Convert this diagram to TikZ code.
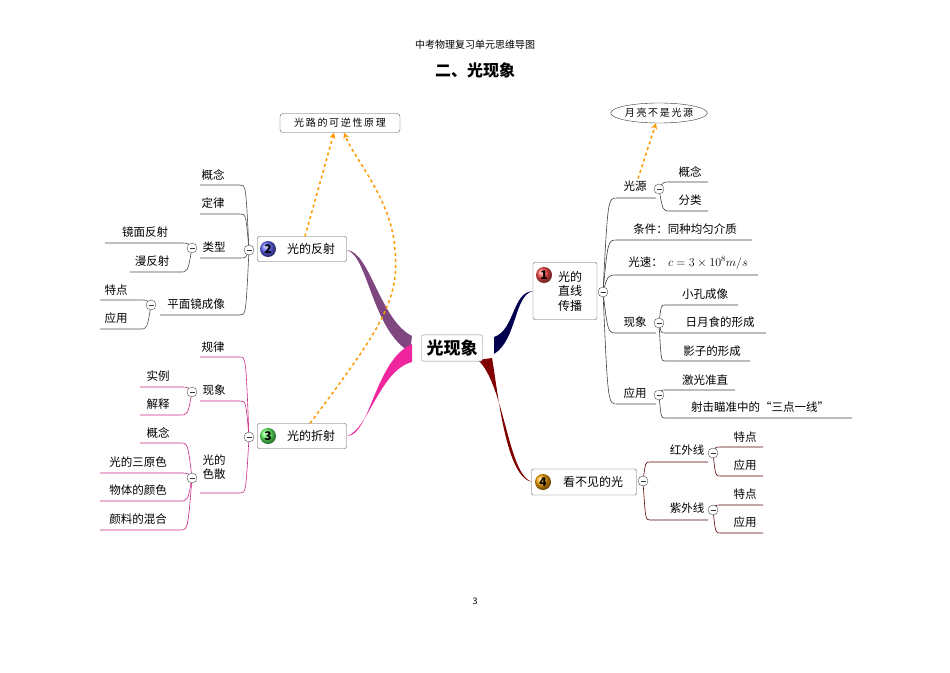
\documentclass[tikz,border=0pt]{standalone}
\usepackage{fontspec}
\setmainfont{Noto Sans CJK SC}
\usetikzlibrary{arrows.meta,calc,shapes.geometric}
\pgfdeclarelayer{bg}\pgfsetlayers{bg,main}
\tikzset{
  lbl/.style={inner sep=0pt,font=\fontsize{11.5}{13}\selectfont},
  topic/.style={draw=gray!70!black,fill=white,rounded corners=2pt,inner sep=3pt,font=\fontsize{12}{14}\selectfont,align=center},
  badge/.style={circle,inner sep=0pt,minimum size=16pt,text=black,font=\bfseries\fontsize{12}{12}\selectfont},
  col/.style={circle,draw=gray!60!black,fill=white,inner sep=0pt,minimum size=10pt,path picture={\draw[gray!40!black,line width=0.7pt] ([xshift=-2.5pt]path picture bounding box.center) -- ([xshift=2.5pt]path picture bounding box.center);}},
  cb1/.style={draw=black!75,line width=0.6pt},
  cb2/.style={draw=gray!60!black,line width=0.6pt},
  cb3/.style={draw=magenta!80!black,line width=0.6pt},
  cb4/.style={draw=red!35!black,line width=0.6pt},
  relarrow/.style={draw=orange!80!yellow,dashed,line width=1.5pt,-{Stealth[length=6pt,width=6pt]}},
}
\newcommand\rch[9]{%
  \node[lbl] (#2) at (#4,#5) {#3};
  \coordinate (#2l) at (#6,#8); \coordinate (#2r) at (#7,#8);
  \begin{pgfonlayer}{bg}
  \draw[#9] let \p1=(#1.center), \p2=(#2l) in (\p1) .. controls ({\x1+0.35*(\x2-\x1)},\y2) .. (\p2) -- (#2r);
  \end{pgfonlayer}}
\newcommand\lch[9]{%
  \node[lbl] (#2) at (#4,#5) {#3};
  \coordinate (#2l) at (#6,#8); \coordinate (#2r) at (#7,#8);
  \begin{pgfonlayer}{bg}
  \draw[#9] let \p1=(#1.center), \p2=(#2r) in (\p1) .. controls ({\x1+0.35*(\x2-\x1)},\y2) .. (\p2) -- (#2l);
  \end{pgfonlayer}}
\begin{document}
\begin{tikzpicture}[x=1pt,y=-1pt]
\useasboundingbox (0,0) rectangle (950,672);
\node[inner sep=0pt,font=\fontsize{10}{12}\selectfont] (sub) at (475,45) {中考物理复习单元思维导图};
\node[inner sep=0pt,font=\bfseries\fontsize{16}{18}\selectfont] (ttl) at (475,70) {二、光现象};
\node[inner sep=0pt,font=\fontsize{9}{10}\selectfont] (pg) at (475,601) {3};

\fill[blue!30!black] (494,337) .. controls (515,330) and (512,292) .. (533,291) .. controls (514,295) and (517,340) .. (494,354) -- cycle;
\fill[red!50!black] (478,360) .. controls (505,385) and (508,478) .. (533,482) .. controls (506,480) and (498,392) .. (492,358) -- cycle;
\fill[violet!45!gray] (412,336) .. controls (380,320) and (370,252) .. (347,250) .. controls (368,256) and (372,330) .. (410,352) -- cycle;
\fill[magenta!85!white] (412,344) .. controls (375,360) and (370,436) .. (347,436) .. controls (368,430) and (380,370) .. (412,362) -- cycle;

\node[draw=gray,fill=white,rounded corners=2pt,inner sep=5pt,font=\bfseries\fontsize{17}{19}\selectfont] (c) at (452,348) {光现象};

\node[topic,minimum width=64pt,minimum height=57pt,text width=30pt,font=\fontsize{12}{14.5}\selectfont] (t1) at (565,291) {\hspace*{8pt}光的\\\hspace*{8pt}直线\\\hspace*{8pt}传播};
\node[badge,ball color=red!70] (b1) at (544,275) {1};
\node[topic,minimum width=89pt,minimum height=25pt] (t2) at (302,249) {\hspace*{18pt}光的反射};
\node[badge,ball color=blue!60] (b2) at (268,249) {2};
\node[topic,minimum width=89pt,minimum height=25pt] (t3) at (302,436) {\hspace*{18pt}光的折射};
\node[badge,ball color=green!60] (b3) at (268,436) {3};
\node[topic,minimum width=105pt,minimum height=26pt] (t4) at (584,482) {\hspace*{18pt}看不见的光};
\node[badge,ball color=orange!70!yellow] (b4) at (543,482) {4};

\node[draw=gray!70!black,rounded corners=3pt,inner sep=2pt,minimum width=120pt,minimum height=19pt,font=\fontsize{10}{12}\selectfont] (rev) at (340,123) {光\,路\,的\,可\,逆\,性\,原\,理};
\node[draw=black!80,ellipse,inner sep=0pt,minimum width=96pt,minimum height=20pt,font=\fontsize{10}{12}\selectfont] (moon) at (659,113) {月\,亮\,不\,是\,光\,源};

\node[col] (k1) at (603,292) {};
\node[col] (k4) at (643,481) {};
\node[col] (k2) at (249,250) {};
\node[col] (k3) at (249,437) {};
\node[col] (kgy) at (659,189) {};
\node[col] (kxx1) at (659,323) {};
\node[col] (kyy1) at (659,395) {};
\node[col] (khw) at (713,453) {};
\node[col] (kzw) at (713,510) {};
\node[col] (klx) at (192,248) {};
\node[col] (kpm) at (151,305) {};
\node[col] (kxx3) at (192,392) {};
\node[col] (kss) at (192,478) {};

\rch{k1}{gy}{光源}{635}{186}{617}{656}{198}{cb1}
\rch{kgy}{gn1}{概念}{690}{172}{670}{708}{182}{cb1}
\rch{kgy}{fl}{分类}{690}{200}{670}{708}{211}{cb1}
\rch{k1}{tj}{条件：同种均匀介质}{685}{229}{617}{752}{240}{cb1}
\rch{k1}{gs}{光速：\ \ $c=3\times10^{8}m/s$}{688}{263}{617}{758}{275}{cb1}
\rch{k1}{xx1}{现象}{635}{322}{617}{656}{333}{cb1}
\rch{kxx1}{xk}{小孔成像}{705}{294}{665}{738}{305}{cb1}
\rch{kxx1}{ry}{日月食的形成}{720}{322}{665}{766}{333}{cb1}
\rch{kxx1}{yz}{影子的形成}{712}{351}{665}{750}{361}{cb1}
\rch{k1}{yy1}{应用}{635}{393}{617}{656}{404}{cb1}
\rch{kyy1}{jg}{激光准直}{705}{380}{665}{735}{390}{cb1}
\rch{kyy1}{sj}{射击瞄准中的“三点一线”}{760}{407}{665}{852}{418}{cb1}

\rch{k4}{hw}{红外线}{687}{450}{650}{708}{462}{cb4}
\rch{khw}{hw1}{特点}{745}{437}{720}{763}{447}{cb4}
\rch{khw}{hw2}{应用}{745}{465}{720}{763}{476}{cb4}
\rch{k4}{zw}{紫外线}{687}{508}{650}{708}{520}{cb4}
\rch{kzw}{zw1}{特点}{745}{494}{720}{763}{505}{cb4}
\rch{kzw}{zw2}{应用}{745}{522}{720}{763}{533}{cb4}

\lch{k2}{gn2}{概念}{213}{175}{200}{240}{185}{cb2}
\lch{k2}{dl}{定律}{213}{203}{200}{240}{214}{cb2}
\lch{k2}{lx}{类型}{214}{247}{200}{240}{258}{cb2}
\lch{klx}{jm}{镜面反射}{145}{232}{105}{180}{243}{cb2}
\lch{klx}{mf}{漫反射}{152}{261}{130}{180}{272}{cb2}
\lch{k2}{pm}{平面镜成像}{196}{304}{160}{240}{315}{cb2}
\lch{kpm}{td2}{特点}{116}{290}{100}{140}{300}{cb2}
\lch{kpm}{yy2}{应用}{116}{318}{100}{140}{329}{cb2}

\lch{k3}{gl}{规律}{213}{347}{200}{240}{357}{cb3}
\lch{k3}{xx3}{现象}{214}{390}{200}{240}{401}{cb3}
\lch{kxx3}{sl}{实例}{158}{376}{140}{180}{387}{cb3}
\lch{kxx3}{js}{解释}{158}{404}{140}{180}{415}{cb3}
\lch{k3}{ss}{\shortstack[l]{光的\\色散}}{214}{467}{200}{240}{493}{cb3}
\lch{kss}{gn3}{概念}{158}{433}{140}{180}{443}{cb3}
\lch{kss}{sy}{光的三原色}{138}{462}{100}{180}{473}{cb3}
\lch{kss}{wt}{物体的颜色}{138}{490}{100}{180}{501}{cb3}
\lch{kss}{yl}{颜料的混合}{138}{519}{100}{180}{530}{cb3}

\draw[relarrow] ($(t2.north)+(3,0)$) -- ($(rev.south)+(-6,0)$);
\draw[relarrow] ($(t3.north)+(8,0)$) .. controls (380,330) and (400,300) .. (395,250) .. controls (392,200) and (355,160) .. ($(rev.south)+(4,0)$);
\draw[relarrow] ($(gy.north)+(3,-2)$) -- ($(moon.south)+(-3,0)$);
\end{tikzpicture}
\end{document}
